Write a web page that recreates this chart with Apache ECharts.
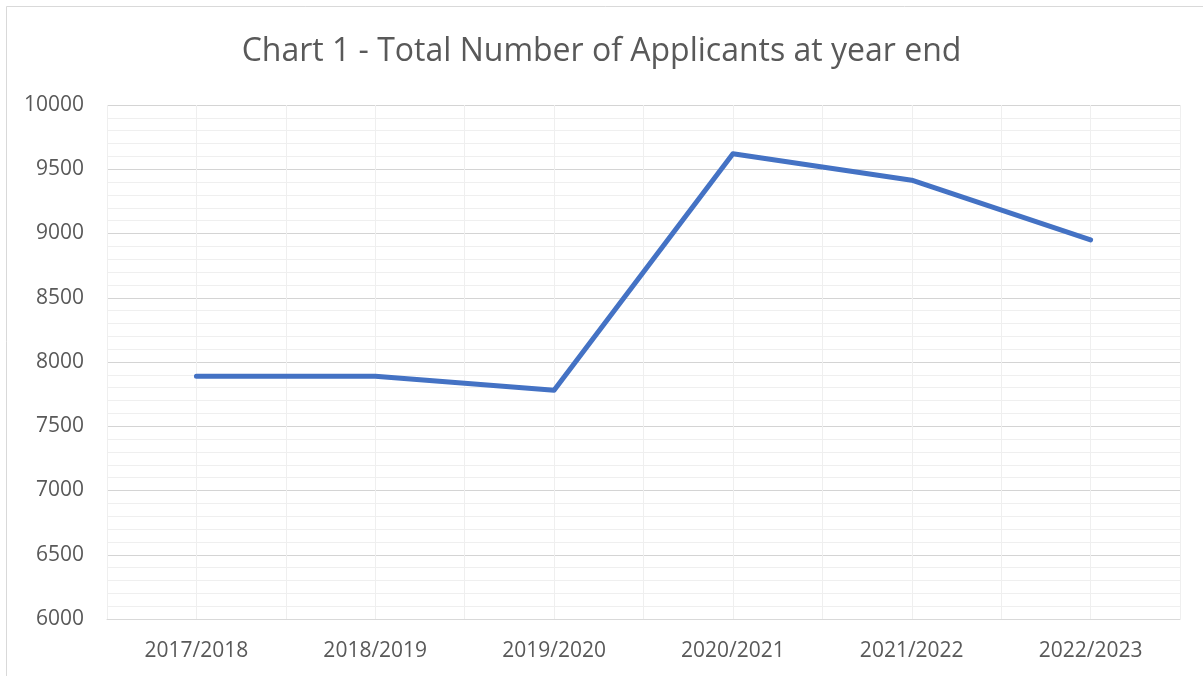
<!DOCTYPE html>
<html>
<head>
<meta charset="utf-8">
<script src="https://cdn.jsdelivr.net/npm/echarts@6/dist/echarts.min.js"></script>
<style>
  html, body { margin: 0; padding: 0; background: #fff; }
  #chart { width: 1203px; height: 676px; }
</style>
</head>
<body>
<div id="chart"></div>
<script>
// 数据
var years = ['2017/2018', '2018/2019', '2019/2020', '2020/2021', '2021/2022', '2022/2023'];
var applicants = [7890, 7890, 7780, 9620, 9415, 8950];
var halfSteps = ['', '', '', '', '', '', '', '', '', '', '', ''];  // 竖向网格（每半个类目一条）

var chart = echarts.init(document.getElementById('chart'));
var option = {
    backgroundColor: '#fff',
    animation: false,
    title: {
        text: 'Chart 1 - Total Number of Applicants at year end',
        left: 'center',
        top: 31,
        textStyle: {
            fontFamily: 'Open Sans',
            fontSize: 32,
            fontWeight: 'normal',
            color: '#595959'
        }
    },
    graphic: [{
        type: 'rect',
        shape: { x: 6.5, y: 6.5, width: 1210, height: 700 },
        style: { fill: 'none', stroke: '#d9d9d9', lineWidth: 1 },
        silent: true
    }],
    grid: { left: 107, right: 23, top: 105, bottom: 57 },
    xAxis: [{
        type: 'category',
        data: years,
        boundaryGap: true,
        axisLine: { lineStyle: { color: '#d9d9d9', width: 1 } },
        axisTick: { show: false },
        axisLabel: {
            color: '#595959',
            fontFamily: 'Open Sans',
            fontSize: 21,
            margin: 22
        },
        splitLine: { show: false }
    }, {
        type: 'category',
        data: halfSteps,
        boundaryGap: true,
        position: 'bottom',
        axisLine: { show: false },
        axisTick: { show: false },
        axisLabel: { show: false },
        splitLine: { show: true, interval: 0, lineStyle: { color: '#efefef', width: 1 } }
    }],
    yAxis: {
        type: 'value',
        min: 6000,
        max: 10000,
        interval: 500,
        axisLine: { show: false },
        axisTick: { show: false },
        axisLabel: {
            color: '#595959',
            fontFamily: 'Open Sans',
            fontSize: 21,
            margin: 23,
            formatter: function (v) { return String(v); }
        },
        splitLine: { lineStyle: { color: '#d4d4d4', width: 1 } },
        minorTick: { show: false, splitNumber: 5 },
        minorSplitLine: { show: true, lineStyle: { color: '#efefef', width: 1 } }
    },
    series: [{
        name: 'Applicants',
        type: 'line',
        data: applicants,
        showSymbol: false,
        lineStyle: { color: '#4472C4', width: 5, cap: 'round', join: 'round' },
        z: 5
    }]
};
chart.setOption(option);
</script>
</body>
</html>
